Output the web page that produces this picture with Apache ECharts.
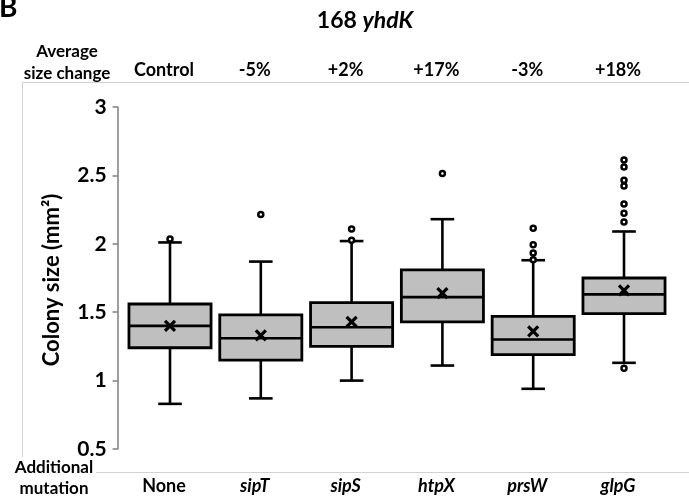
<!DOCTYPE html>
<html>
<head>
<meta charset="utf-8">
<script src="https://cdn.jsdelivr.net/npm/echarts@6/dist/echarts.min.js"></script>
<style>
  html, body { margin: 0; padding: 0; background: #fff; }
  #chart { width: 689px; height: 504px; }
</style>
</head>
<body>
<div id="chart"></div>
<script>
// mutation strains, bottom labels
const mutations = ['None', 'sipT', 'sipS', 'htpX', 'prsW', 'glpG']
// average size change, top labels
const sizeChange = ['Control', '-5%', '+2%', '+17%', '-3%', '+18%']

// box statistics (colony size, mm2)
const whiskerLow = [0.83, 0.87, 1.00, 1.11, 0.94, 1.13]
const q1 = [1.24, 1.15, 1.25, 1.43, 1.19, 1.49]
const median = [1.40, 1.31, 1.39, 1.61, 1.30, 1.63]
const q3 = [1.56, 1.48, 1.57, 1.81, 1.47, 1.75]
const whiskerHigh = [2.01, 1.87, 2.02, 2.18, 1.88, 2.09]
const means = [1.40, 1.33, 1.43, 1.64, 1.36, 1.66]

// outliers: [category index, value]
const outliers = [
  [0, 2.035],
  [1, 2.215],
  [2, 2.108], [2, 2.026],
  [3, 2.513],
  [4, 2.113], [4, 1.993], [4, 1.933], [4, 1.884],
  [5, 2.613], [5, 2.561], [5, 2.464], [5, 2.422], [5, 2.291], [5, 2.223], [5, 2.159], [5, 1.09]
]

const yTicks = { min: 0.5, max: 3, interval: 0.5 }

const FONT = 'Lato'
const chart = echarts.init(document.getElementById('chart'), null, { renderer: 'canvas' })

const boxData = mutations.map((m, i) => [i, whiskerLow[i], q1[i], median[i], q3[i], whiskerHigh[i], means[i]])

function renderBox(params, api) {
  const idx = api.value(0)
  const band = api.size([1, 0])[0]
  const half = band * 0.452
  const cap = band * 0.13
  const pLow = api.coord([idx, api.value(1)])
  const pQ1 = api.coord([idx, api.value(2)])
  const pMed = api.coord([idx, api.value(3)])
  const pQ3 = api.coord([idx, api.value(4)])
  const pHigh = api.coord([idx, api.value(5)])
  const pMean = api.coord([idx, api.value(6)])
  const cx = pMed[0]
  const st = { stroke: '#000', lineWidth: 2.6, fill: null }
  const x = 5
  return {
    type: 'group',
    children: [
      { type: 'line', shape: { x1: cx, y1: pLow[1], x2: cx, y2: pQ1[1] }, style: st },
      { type: 'line', shape: { x1: cx, y1: pQ3[1], x2: cx, y2: pHigh[1] }, style: st },
      { type: 'line', shape: { x1: cx - cap, y1: pLow[1], x2: cx + cap, y2: pLow[1] }, style: st },
      { type: 'line', shape: { x1: cx - cap, y1: pHigh[1], x2: cx + cap, y2: pHigh[1] }, style: st },
      { type: 'rect', shape: { x: cx - half, y: pQ3[1], width: half * 2, height: pQ1[1] - pQ3[1] },
        style: { fill: '#bfbfbf', stroke: '#000', lineWidth: 2.8 } },
      { type: 'line', shape: { x1: cx - half, y1: pMed[1], x2: cx + half, y2: pMed[1] }, style: st },
      { type: 'line', shape: { x1: cx - x, y1: pMean[1] - x, x2: cx + x, y2: pMean[1] + x }, style: { stroke: '#000', lineWidth: 3.2 } },
      { type: 'line', shape: { x1: cx - x, y1: pMean[1] + x, x2: cx + x, y2: pMean[1] - x }, style: { stroke: '#000', lineWidth: 3.2 } }
    ]
  }
}

chart.setOption({
  animation: false,
  textStyle: { fontFamily: FONT },
  grid: { left: 124.6, right: 19.6, top: 107, bottom: 55 },
  graphic: {
    elements: [
      // light frame round the plot
      { type: 'rect', z: -1, silent: true, shape: { x: 22, y: 82, width: 680, height: 391 },
        style: { fill: '#d2d2d2' } },
      { type: 'rect', z: -1, silent: true, shape: { x: 23, y: 83, width: 680, height: 389 },
        style: { fill: '#ffffff' } },
      { type: 'text', left: -1, top: -6, style: { text: 'B', font: 'bold 28px ' + FONT, fill: '#000' } },
      { type: 'text', x: 365, y: 21, style: {
          text: '{n|168 }{i|yhdK}', align: 'center', verticalAlign: 'middle',
          rich: {
            n: { font: 'bold 23px ' + FONT, fill: '#000' },
            i: { font: 'italic bold 23px ' + FONT, fill: '#000' }
          } } },
      { type: 'text', z: 10, x: 67, y: 63, style: {
          text: 'Average\nsize change', align: 'center', verticalAlign: 'middle',
          font: 'bold 17px ' + FONT, lineHeight: 22, fill: '#000' } },
      { type: 'text', z: 10, x: 54, y: 478, style: {
          text: 'Additional\nmutation', align: 'center', verticalAlign: 'middle',
          font: 'bold 17px ' + FONT, lineHeight: 21, fill: '#000', backgroundColor: '#fff', padding: [0, 3] } },
      { type: 'text', x: 52, y: 280, rotation: Math.PI / 2, style: {
          text: 'Colony size (mm²)', align: 'center', verticalAlign: 'middle',
          font: 'bold 22px ' + FONT, fill: '#000' } }
    ]
  },
  xAxis: [
    {
      type: 'category',
      data: mutations,
      position: 'bottom',
      axisLine: { show: false },
      axisTick: { show: false },
      axisLabel: {
        margin: 28,
        padding: [0, 12, 0, 0],
        formatter: v => v === 'None' ? '{n|' + v + '}' : '{i|' + v + '}',
        rich: {
          n: { fontFamily: FONT, fontWeight: 'bold', fontSize: 18, color: '#000' },
          i: { fontFamily: FONT, fontWeight: 'bold', fontStyle: 'italic', fontSize: 18, color: '#000' }
        }
      }
    },
    {
      type: 'category',
      data: sizeChange,
      position: 'top',
      axisLine: { show: false },
      axisTick: { show: false },
      axisLabel: {
        margin: 28,
        padding: [0, 12, 0, 0],
        fontFamily: FONT, fontWeight: 'bold', fontSize: 18, color: '#000'
      }
    }
  ],
  yAxis: {
    type: 'value',
    min: yTicks.min,
    max: yTicks.max,
    interval: yTicks.interval,
    offset: 7,
    splitLine: { show: false },
    axisLine: { show: true, lineStyle: { color: '#7f7f7f', width: 1.5 } },
    axisTick: { show: true, inside: false, length: 5, lineStyle: { color: '#7f7f7f', width: 1.5 } },
    axisLabel: {
      margin: 11,
      fontFamily: FONT, fontWeight: 'bold', fontSize: 21, color: '#000',
      formatter: v => String(v)
    }
  },
  series: [
    {
      type: 'custom',
      xAxisIndex: 0,
      renderItem: renderBox,
      encode: { x: 0, y: [1, 2, 3, 4, 5, 6] },
      data: boxData,
      z: 2
    },
    {
      type: 'scatter',
      xAxisIndex: 0,
      data: outliers,
      symbol: 'circle',
      symbolSize: 5,
      itemStyle: { color: '#fff', borderColor: '#000', borderWidth: 2.5, opacity: 1 },
      z: 3
    }
  ]
})
</script>
</body>
</html>
